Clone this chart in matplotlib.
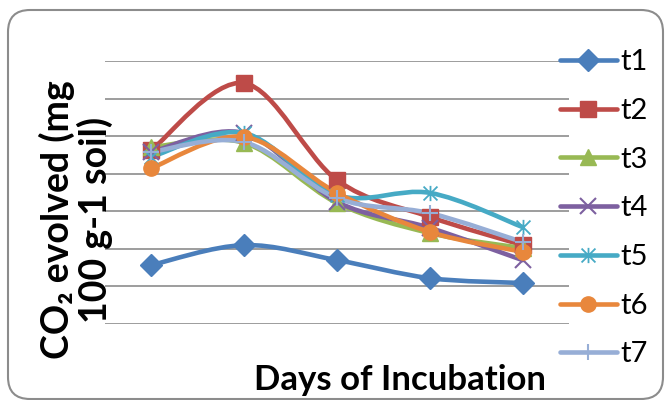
import matplotlib

matplotlib.use("Agg")

import matplotlib.pyplot as plt
from matplotlib.lines import Line2D
from matplotlib.patches import FancyBboxPatch, PathPatch
from matplotlib.path import Path
from matplotlib.transforms import IdentityTransform

plt.rcParams["font.family"] = ["Lato", "DejaVu Sans"]

# Values (no tick labels shown, one gridline = 1 unit)
days = [1, 2, 3, 4, 5]
t1 = [1.57, 2.10, 1.70, 1.22, 1.09]
t2 = [4.63, 6.41, 3.83, 2.85, 2.10]
t3 = [4.71, 4.82, 3.22, 2.42, 2.02]
t4 = [4.58, 5.08, 3.25, 2.56, 1.70]
t5 = [4.45, 5.08, 3.43, 3.49, 2.58]
t6 = [4.15, 4.98, 3.49, 2.45, 1.92]
t7 = [4.58, 4.84, 3.35, 2.95, 2.18]
series = {"t1": t1, "t2": t2, "t3": t3, "t4": t4, "t5": t5, "t6": t6, "t7": t7}

colors = {
    "t1": "#4A7EBB", "t2": "#BE4B48", "t3": "#98B954", "t4": "#7D60A0",
    "t5": "#46AAC5", "t6": "#E8873C", "t7": "#97AED6",
}
# excel-like "star": an X with a vertical bar
star = Path(
    [(-1, -1), (1, 1), (-1, 1), (1, -1), (0, -1.1), (0, 1.1)],
    [Path.MOVETO, Path.LINETO, Path.MOVETO, Path.LINETO, Path.MOVETO, Path.LINETO],
)
markers = {
    "t1": dict(marker="D", markersize=11),
    "t2": dict(marker="s", markersize=12),
    "t3": dict(marker="^", markersize=11),
    "t4": dict(marker="x", markersize=11, markeredgewidth=1.5),
    "t5": dict(marker=star, markersize=11, markeredgewidth=1.3),
    "t6": dict(marker="o", markersize=11),
    "t7": dict(marker="+", markersize=12, markeredgewidth=1.5),
}


def smooth_path(xs, ys):
    # Bezier segments through the points, like a spreadsheet "smoothed line"
    pts = list(zip(xs, ys))
    verts = [pts[0]]
    codes = [Path.MOVETO]
    for i in range(len(pts) - 1):
        p0 = pts[max(i - 1, 0)]
        p1 = pts[i]
        p2 = pts[i + 1]
        p3 = pts[min(i + 2, len(pts) - 1)]
        c1 = (p1[0] + (p2[0] - p0[0]) / 6, p1[1] + (p2[1] - p0[1]) / 6)
        c2 = (p2[0] - (p3[0] - p1[0]) / 6, p2[1] - (p3[1] - p1[1]) / 6)
        verts += [c1, c2, p2]
        codes += [Path.CURVE4] * 3
    return Path(verts, codes)


fig = plt.figure(figsize=(6.65, 4.0), dpi=100)
ax = fig.add_axes([105 / 665, 76 / 400, 464 / 665, 263 / 400])

handles = []
for name, vals in series.items():
    c = colors[name]
    ax.add_patch(PathPatch(smooth_path(days, vals), facecolor="none", edgecolor=c,
                           linewidth=3.3, capstyle="round", joinstyle="round", zorder=3))
    ax.plot(days, vals, linestyle="none", color=c, markeredgecolor=c, zorder=4,
            **markers[name])
    handles.append(Line2D([], [], color=c, linewidth=3.3, markeredgecolor=c,
                          solid_capstyle="round", **markers[name]))

ax.set_xlim(0.5, 5.5)
ax.set_ylim(0, 7)
ax.set_yticks(range(0, 8))
ax.set_xticks([])
ax.grid(axis="y", color="#8C8C8C", linewidth=1.2)
ax.tick_params(left=False, labelleft=False)
for s in ax.spines.values():
    s.set_visible(False)

fig.legend(handles, list(series.keys()), loc="upper left",
           bbox_to_anchor=(560 / 665, 1 - 49 / 400), frameon=False,
           fontsize=21, handlelength=1.95, handletextpad=0.12,
           labelspacing=0.78, borderpad=0, borderaxespad=0)

fig.text(400 / 665, 20 / 400, "Days of Incubation", ha="center", va="center",
         fontsize=25, fontweight="bold")
fig.text(76 / 665, 180 / 400, "CO\u2082 evolved (mg\n100 g-1 soil)", ha="center",
         va="center", rotation=90, multialignment="center", fontsize=27,
         fontweight="bold", linespacing=1.07)

fig.add_artist(FancyBboxPatch((8, 1), 655, 389, boxstyle="round,pad=0,rounding_size=22",
                              transform=IdentityTransform(), facecolor="none",
                              edgecolor="#8C8C8C", linewidth=1.5))

fig.savefig("out.png", dpi=100)
